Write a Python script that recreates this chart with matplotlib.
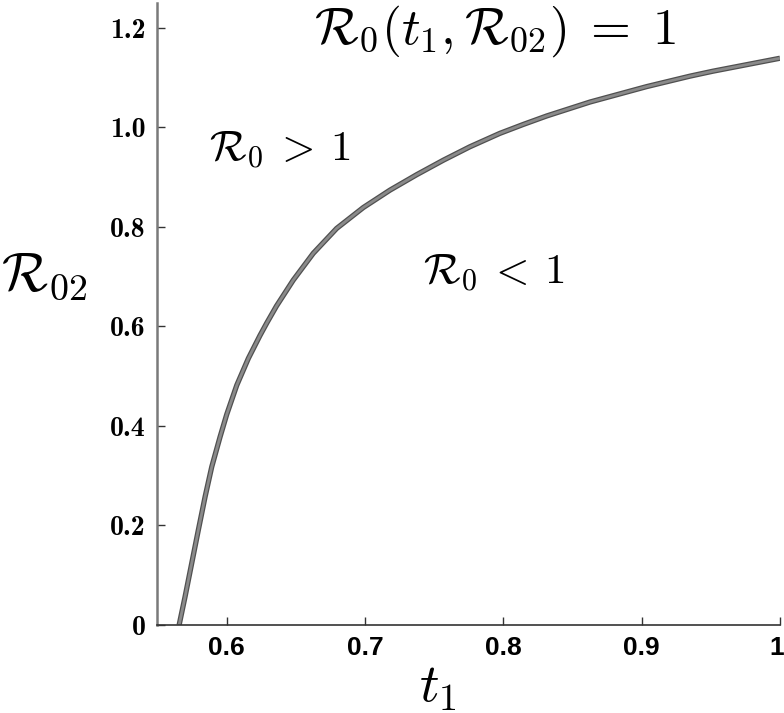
import os
import matplotlib
matplotlib.use("Agg")
import matplotlib.pyplot as plt
import matplotlib.patheffects as pe
import matplotlib.transforms as mtransforms
from matplotlib.font_manager import FontProperties

plt.rcParams['mathtext.fontset'] = 'cm'

# boundary curve R0(t1, R02) = 1
t1 = [0.5655, 0.5698, 0.5746, 0.5794, 0.5843, 0.5891, 0.5951, 0.5999,
      0.6072, 0.6156, 0.6240, 0.6289, 0.6359, 0.6480, 0.6625, 0.6794,
      0.6987, 0.7180, 0.7373, 0.7565, 0.7757, 0.7974, 0.8144, 0.8313,
      0.8626, 0.9036, 0.9349, 0.9516, 1.0]
r02 = [0.0, 0.057, 0.124, 0.191, 0.258, 0.318, 0.378, 0.423,
       0.482, 0.536, 0.582, 0.607, 0.641, 0.693, 0.747, 0.797,
       0.839, 0.874, 0.905, 0.934, 0.961, 0.988, 1.006, 1.023,
       1.051, 1.082, 1.103, 1.113, 1.139]

xticks = [0.6, 0.7, 0.8, 0.9, 1.0]
xticklabels = ['0.6', '0.7', '0.8', '0.9', '1']
yticks = [0, 0.2, 0.4, 0.6, 0.8, 1.0, 1.2]
yticklabels = ['0', '0.2', '0.4', '0.6', '0.8', '1.0', '1.2']

cm_bold = FontProperties(fname=os.path.join(matplotlib.get_data_path(), 'fonts', 'ttf', 'cmb10.ttf'),
                         size=20)

fig = plt.figure(figsize=(7.84, 7.13), dpi=100)
ax = fig.add_axes([157/784, 1 - 625/713, (780 - 157)/784, (625 - 3)/713])

ax.plot(t1, r02, color='#8a8a8a', lw=2.0, solid_capstyle='butt', solid_joinstyle='round',
        path_effects=[pe.Stroke(linewidth=3.8, foreground='#505050'), pe.Normal()])

ax.set_xlim(0.5495, 1.0)
ax.set_ylim(0, 1.25)

for s in ['top', 'right']:
    ax.spines[s].set_visible(False)
ax.spines['left'].set_color('#7a7a7a')
ax.spines['left'].set_linewidth(1.8)
ax.spines['bottom'].set_color('#333333')
ax.spines['bottom'].set_linewidth(1.2)

ax.set_xticks(xticks)
ax.set_xticklabels(xticklabels, fontfamily='Liberation Sans', fontweight='bold', fontsize=19)
ax.set_yticks(yticks)
ax.set_yticklabels(yticklabels, fontproperties=cm_bold)
ax.tick_params(direction='in', length=6, width=1, color='#333333', pad=8)

# last x label sits flush with the right edge
last = ax.get_xticklabels()[-1]
last.set_horizontalalignment('right')
last.set_transform(last.get_transform() + mtransforms.ScaledTranslation(4/100, 0, fig.dpi_scale_trans))

ax.text((495 - 157)/623, 1.0, r'$\mathcal{R}_0(t_1,\mathcal{R}_{02})\;=\;1$', transform=ax.transAxes,
        ha='center', va='top', fontsize=37)
ax.text(0.6383, 0.954, r'$\mathcal{R}_0\:>\:1$', ha='center', va='center', fontsize=31)
ax.text(0.793, 0.707, r'$\mathcal{R}_0\:<\:1$', ha='center', va='center', fontsize=31)

fig.text(44/784, 1 - 275/713, r'$\mathcal{R}_{02}$', ha='center', va='center', fontsize=39)
fig.text(438/784, 1 - 687/713, r'$t_1$', ha='center', va='center', fontsize=39)

fig.savefig('out.png', dpi=100)
